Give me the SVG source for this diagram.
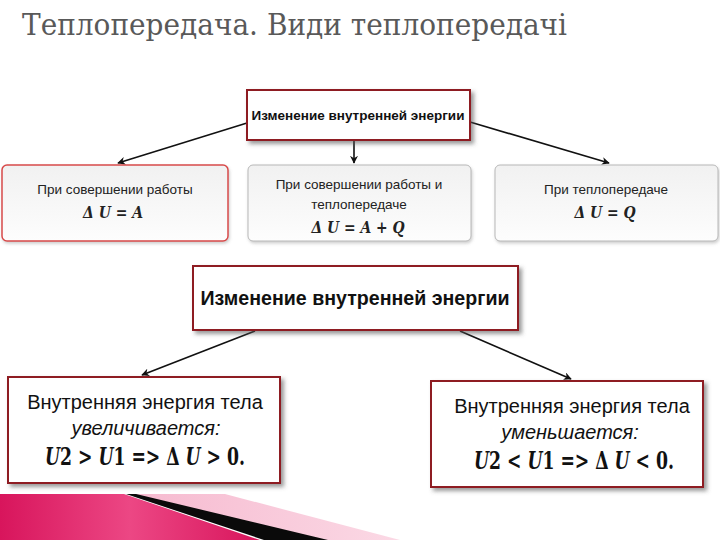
<svg xmlns="http://www.w3.org/2000/svg" width="720" height="540" viewBox="0 0 720 540">
<style>
.title{font-family:'DejaVu Serif',serif;font-size:29px;fill:#595959}
.h1{font-family:'Liberation Sans',Arial,sans-serif;font-weight:bold;font-size:13.5px;fill:#111;text-anchor:middle}
.h2{font-family:'Liberation Sans',Arial,sans-serif;font-weight:bold;font-size:19.6px;fill:#111;text-anchor:middle}
.t{font-family:'Liberation Sans',Arial,sans-serif;font-size:13.5px;fill:#222;text-anchor:middle}
.f{font-family:'DejaVu Serif',serif;font-weight:bold;font-style:italic;font-size:17px;fill:#222;text-anchor:middle}
.b{font-family:'Liberation Sans',Arial,sans-serif;font-size:20px;fill:#111;text-anchor:middle}
.bi{font-style:italic}
.ff{font-family:'DejaVu Serif',serif;font-weight:bold;font-size:21px;fill:#111;text-anchor:middle}
.red{fill:#fff;stroke:#8e1b22;stroke-width:2}
.gray{fill:url(#g);stroke:#b8b8b8;stroke-width:1}
.con{stroke:#111;stroke-width:1.6;fill:none;marker-end:url(#ah)}
</style>
<defs>
<linearGradient id="g" x1="0" y1="0" x2="0" y2="1"><stop offset="0" stop-color="#f1f1f1"/><stop offset="1" stop-color="#fdfdfd"/></linearGradient>
<linearGradient id="mg" x1="0" y1="0" x2="1" y2="0"><stop offset="0" stop-color="#d8155c"/><stop offset="0.5" stop-color="#ec4784"/><stop offset="1" stop-color="#d8155c"/></linearGradient>
<linearGradient id="lp" x1="0" y1="0" x2="1" y2="0"><stop offset="0" stop-color="#f6b9cf"/><stop offset="1" stop-color="#fbd9e5"/></linearGradient>
<filter id="sh" x="-10%" y="-10%" width="125%" height="135%"><feDropShadow dx="3" dy="3" stdDeviation="2" flood-color="#555" flood-opacity="0.6"/></filter>
<filter id="sh2" x="-10%" y="-10%" width="125%" height="135%"><feDropShadow dx="1" dy="2" stdDeviation="1.5" flood-color="#888" flood-opacity="0.4"/></filter>
<marker id="ah" viewBox="0 0 10 10" refX="9" refY="5" markerWidth="8" markerHeight="8" orient="auto-start-reverse" markerUnits="userSpaceOnUse"><path d="M0,0 L10,5 L0,10 L3,5 z" fill="#111"/></marker>
</defs>
<rect width="720" height="540" fill="#fff"/>
<text class="title" x="22" y="35" textLength="545" lengthAdjust="spacingAndGlyphs">Теплопередача. Види теплопередачі</text>

<g id="decor">
<polygon points="128,494 225,494 400,540 318,540" fill="url(#lp)"/>
<polygon points="0,494 124,494 260,540 0,540" fill="url(#mg)"/>
<polygon points="126,494 136,494 328,540 264,540" fill="#0a0a0a"/>
</g>

<g id="connectors">
<line class="con" x1="247" y1="123" x2="118" y2="163"/>
<line class="con" x1="470" y1="122" x2="609" y2="163"/>
<line class="con" x1="354" y1="141" x2="354" y2="163"/>
<line class="con" x1="255" y1="331" x2="142" y2="375"/>
<line class="con" x1="460" y1="331" x2="571" y2="379"/>
</g>

<g id="top">
<rect class="red" x="247" y="90" width="223" height="50" filter="url(#sh)" stroke-width="1.5"/>
<text class="h1" x="358" y="120">Изменение внутренней энергии</text>
</g>

<g id="work">
<rect x="2" y="165" width="226" height="76" rx="5" fill="url(#g)" stroke="#d84a4a" stroke-width="1.5" filter="url(#sh2)"/>
<text class="t" x="115" y="194">При совершении работы</text>
<text class="f" x="113" y="218" textLength="60" lengthAdjust="spacingAndGlyphs">Δ U = A</text>
</g>

<g id="both">
<rect class="gray" x="248" y="165" width="223" height="76" rx="5" filter="url(#sh2)"/>
<text class="t" x="359" y="189">При совершении работы и</text>
<text class="t" x="359" y="209">теплопередаче</text>
<text class="f" x="358" y="233" textLength="93" lengthAdjust="spacingAndGlyphs">Δ U = A + Q</text>
</g>

<g id="heat">
<rect class="gray" x="495" y="165" width="223" height="76" rx="5" filter="url(#sh2)"/>
<text class="t" x="606" y="194">При теплопередаче</text>
<text class="f" x="605" y="218" textLength="61" lengthAdjust="spacingAndGlyphs">Δ U = Q</text>
</g>

<g id="main">
<rect class="red" x="193" y="266" width="325" height="64" filter="url(#sh)"/>
<text class="h2" x="355" y="305">Изменение внутренней энергии</text>
</g>

<g id="increase">
<rect class="red" x="8" y="377" width="272" height="106" filter="url(#sh)"/>
<text class="b" x="145" y="409">Внутренняя энергия тела</text>
<text class="b bi" x="146" y="435">увеличивается:</text>
<text class="ff" transform="translate(145,465) scale(0.82,1.15)"><tspan font-style="italic">U</tspan>2 &gt; <tspan font-style="italic">U</tspan>1 =&gt; Δ <tspan font-style="italic">U</tspan> &gt; 0.</text>
</g>

<g id="decrease">
<rect class="red" x="431" y="381" width="272" height="106" filter="url(#sh)"/>
<text class="b" x="572" y="413">Внутренняя энергия тела</text>
<text class="b bi" x="570" y="439">уменьшается:</text>
<text class="ff" transform="translate(574,469) scale(0.82,1.15)"><tspan font-style="italic">U</tspan>2 &lt; <tspan font-style="italic">U</tspan>1 =&gt; Δ <tspan font-style="italic">U</tspan> &lt; 0.</text>
</g>
</svg>
